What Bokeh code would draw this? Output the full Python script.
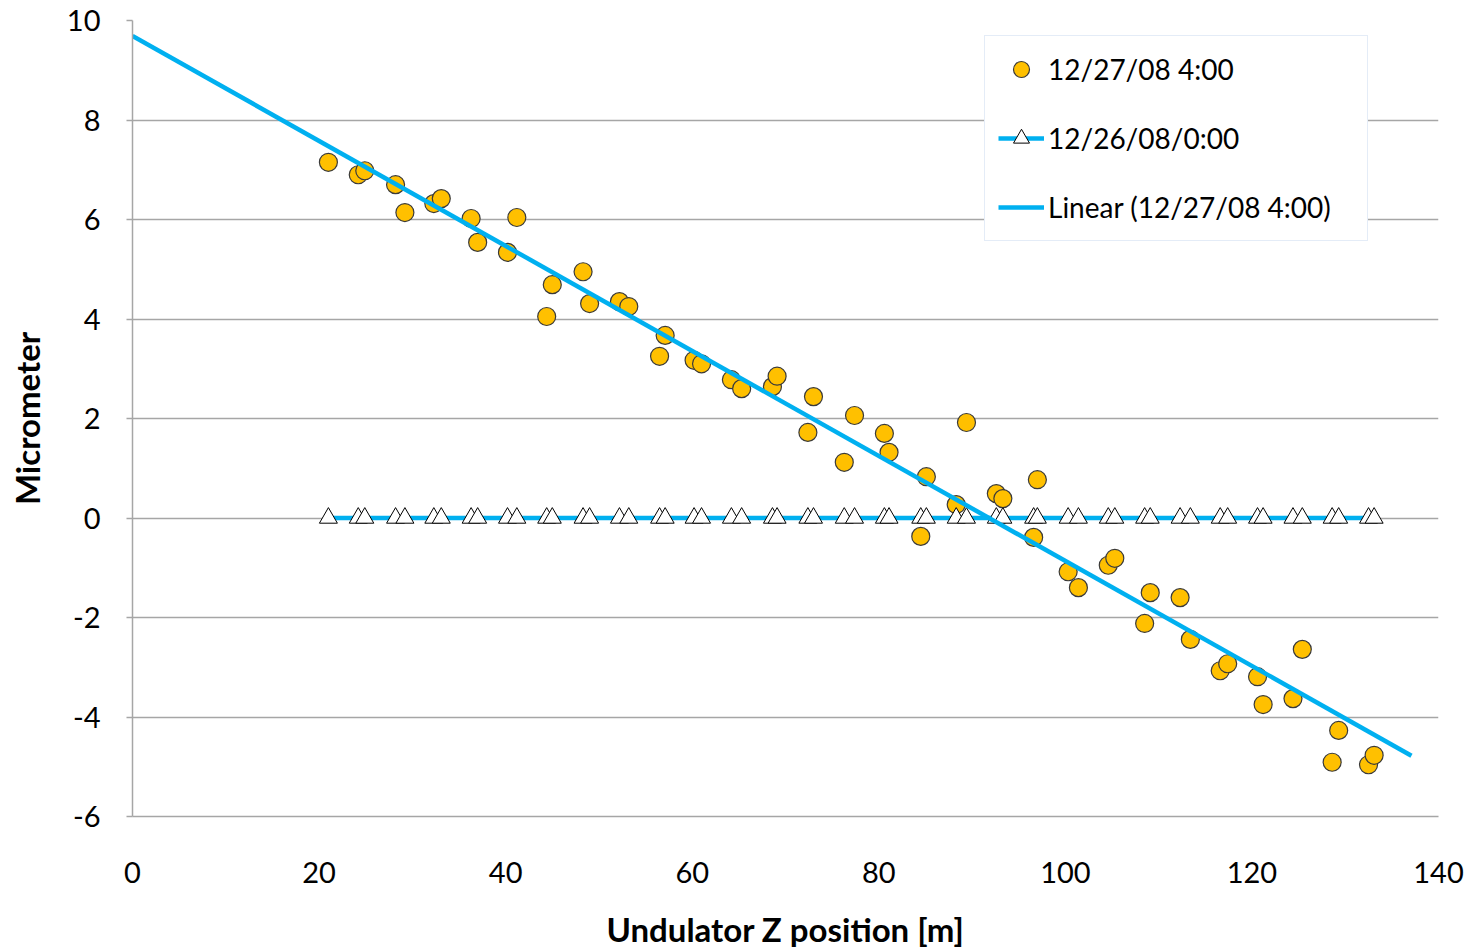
import numpy as np
from bokeh.plotting import figure
from bokeh.models import Range1d, FixedTicker, Legend, LegendItem, PrintfTickFormatter
from bokeh.embed import file_html
from bokeh.resources import INLINE

# ---- data ----
z_pos = [21.0, 24.2, 24.9, 28.2, 29.2, 32.3, 33.1, 36.3, 37.0, 40.2, 41.2,
         44.4, 45.0, 48.3, 49.0, 52.2, 53.2, 56.5, 57.1, 60.2, 61.0,
         64.2, 65.3, 68.6, 69.1, 72.4, 73.0, 76.3, 77.4, 80.6, 81.1,
         84.5, 85.1, 88.3, 89.4, 92.6, 93.3, 96.6, 97.0, 100.3, 101.4,
         104.6, 105.3, 108.5, 109.1, 112.3, 113.4, 116.6, 117.4, 120.6, 121.2,
         124.4, 125.4, 128.6, 129.3, 132.5, 133.1]
dec27 = [7.15, 6.90, 6.98, 6.70, 6.14, 6.32, 6.42, 6.02, 5.54, 5.34, 6.04,
         4.05, 4.69, 4.95, 4.31, 4.35, 4.25, 3.25, 3.67, 3.17, 3.10,
         2.78, 2.60, 2.64, 2.85, 1.72, 2.44, 1.12, 2.06, 1.70, 1.32,
         -0.37, 0.83, 0.27, 1.92, 0.49, 0.39, -0.39, 0.77, -1.08, -1.40,
         -0.95, -0.81, -2.12, -1.50, -1.60, -2.44, -3.07, -2.93, -3.19, -3.75,
         -3.63, -2.64, -4.91, -4.27, -4.96, -4.77]
dec26 = [0.0] * len(z_pos)
trend_extent = [0.0, 137.1]   # x range covered by the linear trendline

x_ticks = [0, 20, 40, 60, 80, 100, 120, 140]
y_ticks = [-6, -4, -2, 0, 2, 4, 6, 8, 10]

slope, intercept = np.polyfit(z_pos, dec27, 1)
trend_x = np.array(trend_extent)
trend_y = intercept + slope * trend_x

FONT = "Lato"
GRID = "#A6A6A6"
BLUE = "#00B0F0"
ORANGE = "#FFC000"

p = figure(frame_width=1306, frame_height=796,
           min_border_left=132, min_border_right=33,
           min_border_top=20, min_border_bottom=100,
           x_range=Range1d(0, 140), y_range=Range1d(-6, 10),
           output_backend="svg", toolbar_location=None,
           background_fill_color="white", border_fill_color="white")
p.outline_line_color = None

# axes
p.xaxis.ticker = FixedTicker(ticks=x_ticks)
p.yaxis.ticker = FixedTicker(ticks=y_ticks)
p.yaxis.formatter = PrintfTickFormatter(format="%d")
for ax in (p.xaxis[0], p.yaxis[0]):
    ax.axis_line_color = GRID
    ax.axis_line_width = 1.5
    ax.minor_tick_line_color = None
    ax.major_label_text_font = FONT
    ax.major_label_text_font_size = "29px"
    ax.major_label_text_color = "#000000"
    ax.axis_label_text_font = FONT
    ax.axis_label_text_font_style = "bold"
    ax.axis_label_text_color = "#000000"
    ax.axis_label_text_font_size = "33px"
p.xaxis.major_tick_line_color = None
p.xaxis.major_tick_out = 0
p.xaxis.major_tick_in = 0
p.xaxis.major_label_standoff = 45
p.xaxis.axis_label = "Undulator Z position [m]"
p.xaxis.axis_label_standoff = 23

p.yaxis.major_tick_line_color = GRID
p.yaxis.major_tick_line_width = 1.5
p.yaxis.major_tick_out = 6
p.yaxis.major_tick_in = 0
p.yaxis.major_label_standoff = 26
p.yaxis.axis_label = "Micrometer"
p.yaxis.axis_label_standoff = 17

p.xgrid.grid_line_color = None
p.ygrid.grid_line_color = GRID
p.ygrid.grid_line_width = 1.5

# series
r_circ = p.scatter(z_pos, dec27, marker="circle", size=18,
                   fill_color=ORANGE, line_color="#3A3A3A", line_width=1.2)
r_line26 = p.line(z_pos, dec26, line_color=BLUE, line_width=4.5)
r_tri26 = p.scatter(z_pos, dec26, marker="triangle", size=18,
                    fill_color="white", line_color="#000000", line_width=1)
r_trend = p.line(trend_x, trend_y, line_color=BLUE, line_width=4.5)

legend = Legend(items=[
    LegendItem(label="12/27/08 4:00", renderers=[r_circ]),
    LegendItem(label="12/26/08/0:00", renderers=[r_line26, r_tri26]),
    LegendItem(label="Linear (12/27/08 4:00)", renderers=[r_trend]),
], location=(852, 575))
legend.label_text_font = FONT
legend.label_text_font_size = "28px"
legend.label_text_color = "#000000"
legend.glyph_width = 46
legend.glyph_height = 40
legend.label_height = 40
legend.label_width = 306
legend.label_standoff = 4
legend.spacing = 29
legend.padding = 13
legend.border_line_color = "#C9DAF0"
legend.border_line_width = 1.5
legend.background_fill_color = "white"
legend.background_fill_alpha = 1.0
p.add_layout(legend)

open("out.html", "w").write(file_html(p, INLINE))
